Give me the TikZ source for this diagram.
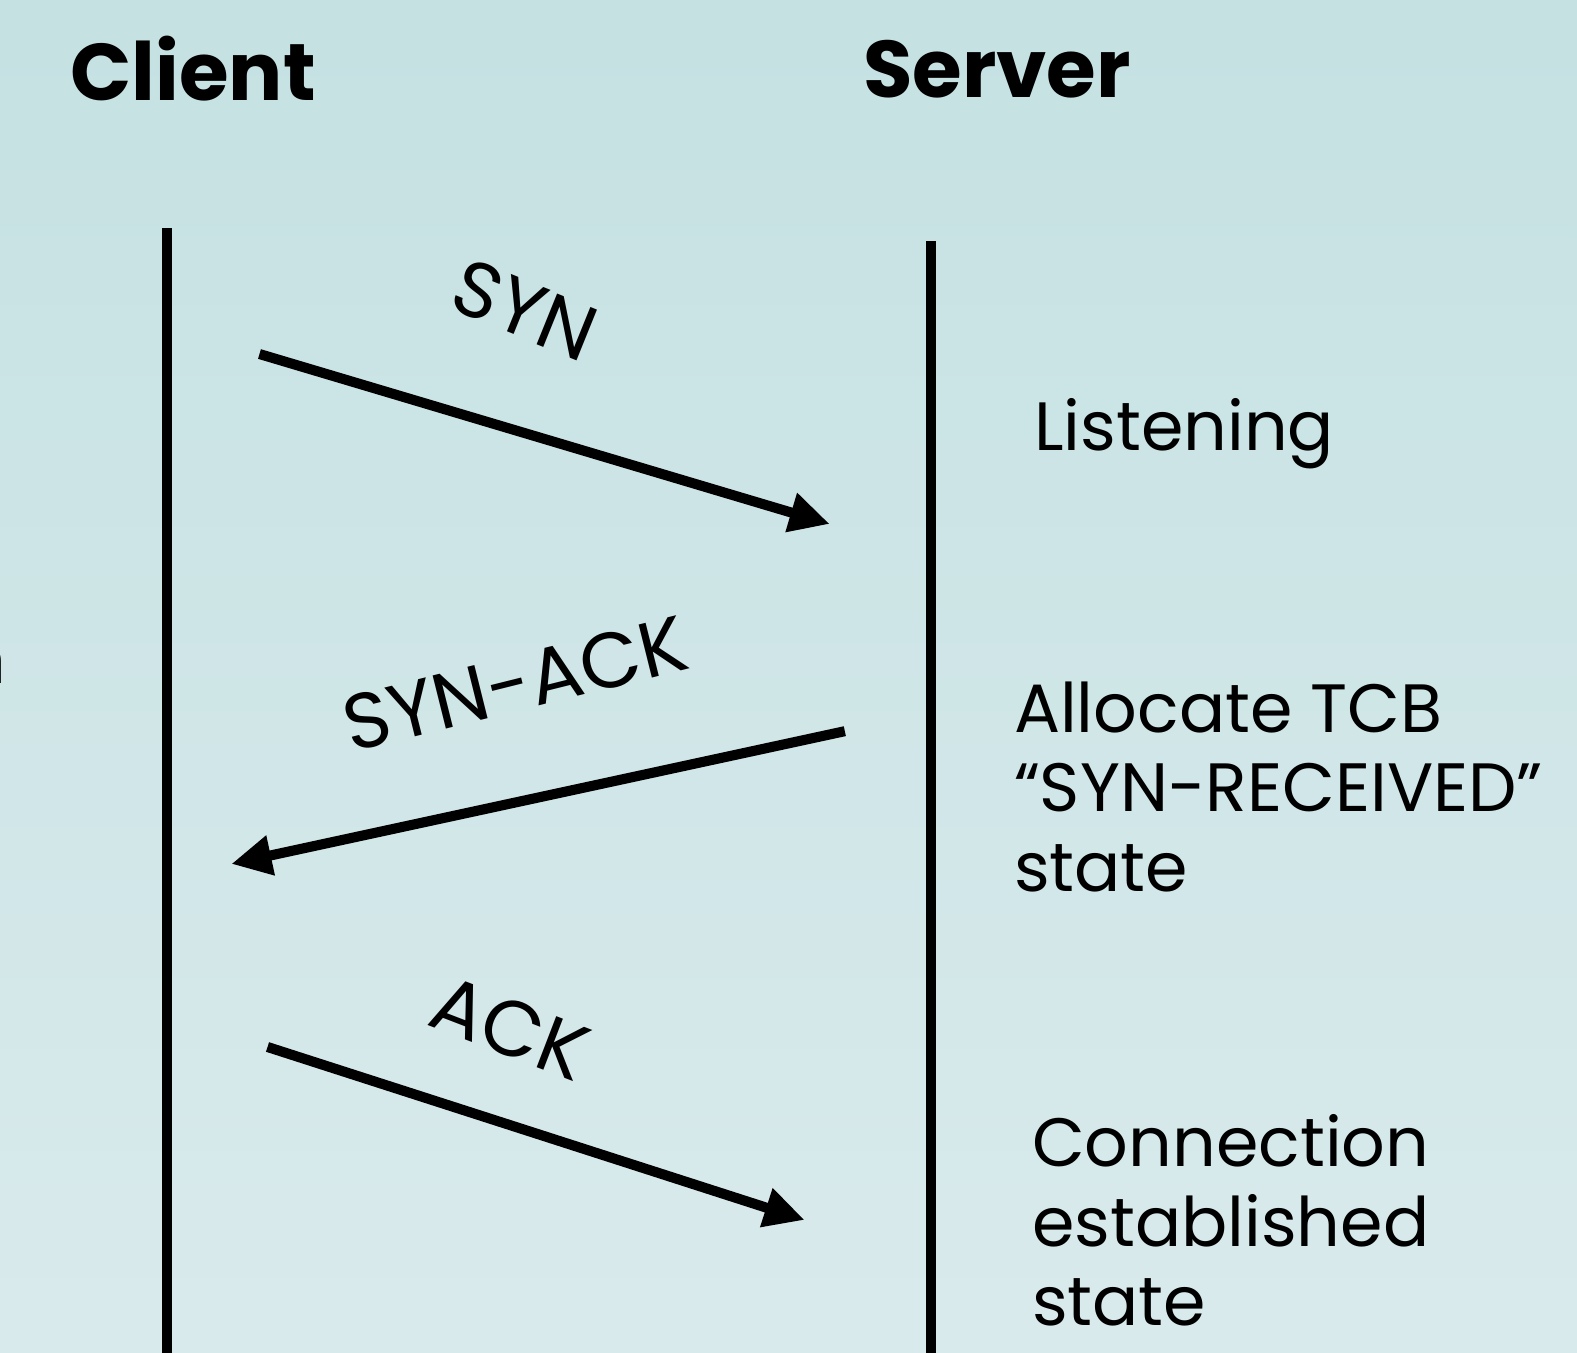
\documentclass[tikz,border=0pt]{standalone}
\usepackage{fontspec}
\setmainfont{Poppins}
\usetikzlibrary{arrows.meta}
\definecolor{bgtop}{HTML}{C5E1E2}
\definecolor{bgbot}{HTML}{D9EAEC}
\begin{document}
\begin{tikzpicture}[x=1pt,y=-1pt,
  lifeline/.style={line width=10pt},
  msg/.style={line width=10pt,-{Triangle[length=40pt,width=38pt]}},
  head/.style={font=\fontsize{80}{84}\selectfont\bfseries,inner sep=0pt,anchor=base west},
  lbl/.style={font=\fontsize{78}{84}\selectfont,inner sep=0pt},
  note/.style={font=\fontsize{68}{79}\selectfont,inner sep=0pt,anchor=base west,align=left}]
\useasboundingbox (0,0) rectangle (1568,1345);
\shade[top color=bgtop,bottom color=bgbot] (0,0) rectangle (1568,1345);
% headers
\node[head] (client) at (70,100) {Client};
\node[head] (server) at (858,97) {Server};
% lifelines
\coordinate (ctop) at (166,227);
\coordinate (cbot) at (166,1350);
\coordinate (stop) at (926,240);
\coordinate (sbot) at (926,1350);
\draw[lifeline] (ctop) -- (cbot);
\draw[lifeline] (stop) -- (sbot);
% messages
\coordinate (syn1) at (258,352);
\coordinate (syn2) at (825,521);
\coordinate (sa1) at (840,727);
\coordinate (sa2) at (230,859);
\coordinate (ack1) at (266,1041);
\coordinate (ack2) at (800,1213);
\draw[msg] (syn1) -- (syn2);
\draw[msg] (sa1) -- (sa2);
\draw[msg] (ack1) -- (ack2);
% message labels
\node[lbl,rotate=-22] (synl) at (522,308) {SYN};
\node[lbl,rotate=14] (sal) at (512,680) {SYN-ACK};
\node[lbl,rotate=-21] (ackl) at (507,1022) {ACK};
% server states (anchored at the baseline of the last line)
\node[note] (listen) at (1028,448) {Listening};
\node[note] (alloc) at (1008,886) {Allocate TCB\\“SYN-RECEIVED”\\state};
\node[note] (conn) at (1026,1318) {Connection\\established\\state};
% cut-off text at left edge
\node[note,anchor=base east] (cut) at (6,680) {n};
\end{tikzpicture}
\end{document}
